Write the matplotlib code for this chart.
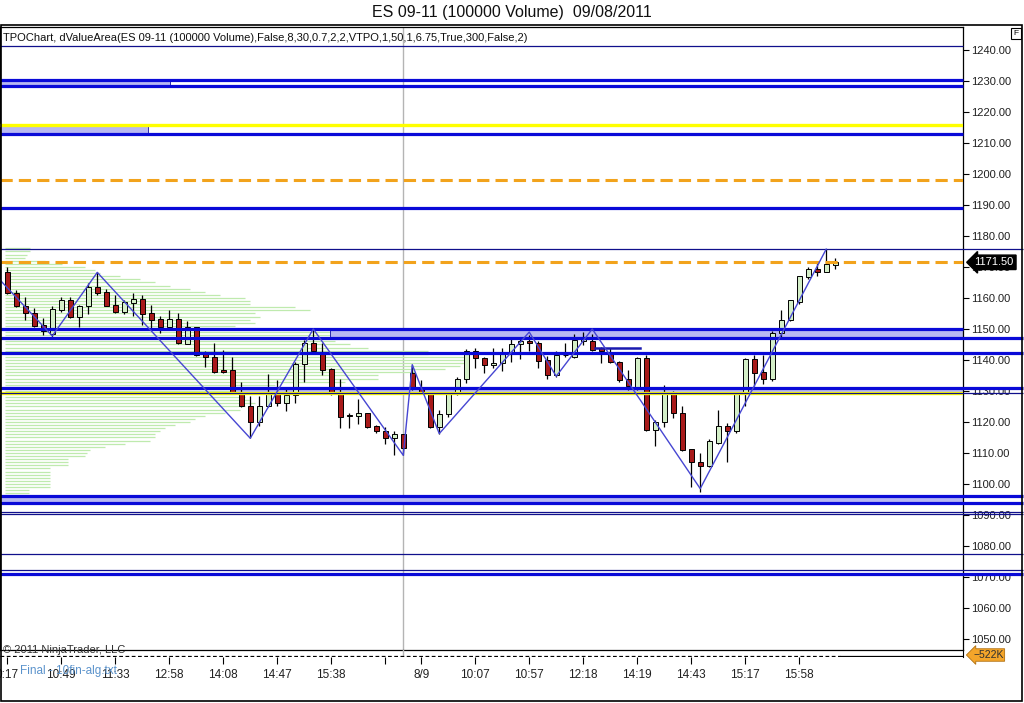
import matplotlib
matplotlib.use("Agg")
import matplotlib.pyplot as plt
from matplotlib.patches import Rectangle
import numpy as np

plt.rcParams['font.family'] = ['Liberation Sans', 'DejaVu Sans']

# --- data -------------------------------------------------------------
opens = [1168.25, 1161.75, 1157.5, 1155.0, 1151.25, 1148.25, 1156.0, 1159.5, 1154.0, 1157.25,
         1163.5, 1162.0, 1157.75, 1155.5, 1158.5, 1159.75, 1155.0, 1153.25, 1150.5, 1153.25,
         1145.25, 1150.5, 1142.0, 1141.0, 1136.75, 1136.75, 1129.75, 1125.25, 1120.0, 1125.0,
         1129.5, 1126.0, 1128.75, 1138.75, 1145.5, 1142.25, 1137.0, 1129.5, 1122.25, 1122.0,
         1123.0, 1118.75, 1117.0, 1114.75, 1116.25, 1135.75, 1131.0, 1129.75, 1118.25, 1122.5,
         1129.5, 1134.0, 1142.75, 1140.5, 1138.5, 1139.0, 1142.25, 1145.25, 1146.0, 1145.5,
         1140.0, 1135.25, 1141.5, 1141.0, 1146.25, 1146.25, 1143.75, 1142.0, 1139.5, 1133.75,
         1130.75, 1140.75, 1117.5, 1120.0, 1129.0, 1122.75, 1111.25, 1107.25, 1105.75, 1113.25,
         1118.75, 1117.25, 1129.5, 1140.25, 1136.0, 1134.0, 1148.75, 1153.0, 1158.75, 1166.75,
         1169.25, 1168.5, 1170.75]
highs = [1170.0, 1162.5, 1160.25, 1156.75, 1153.5, 1157.25, 1160.25, 1160.25, 1157.75, 1164.75,
         1168.25, 1163.0, 1161.0, 1159.5, 1161.75, 1161.0, 1157.75, 1154.25, 1156.0, 1155.25,
         1152.5, 1150.5, 1143.0, 1145.5, 1143.25, 1141.0, 1133.0, 1128.25, 1128.25, 1135.5,
         1133.5, 1130.5, 1139.5, 1146.5, 1150.0, 1145.5, 1137.25, 1133.75, 1122.75, 1127.5,
         1123.0, 1119.0, 1118.5, 1117.0, 1116.25, 1138.5, 1133.5, 1129.75, 1124.0, 1129.75,
         1134.5, 1143.5, 1143.75, 1141.0, 1143.75, 1144.0, 1146.75, 1147.25, 1148.0, 1146.25,
         1141.25, 1143.0, 1145.5, 1148.5, 1149.0, 1148.5, 1144.25, 1143.75, 1139.75, 1136.75,
         1141.0, 1141.5, 1120.5, 1132.0, 1130.0, 1125.25, 1111.25, 1110.0, 1114.5, 1124.0,
         1119.75, 1129.5, 1140.5, 1141.5, 1141.5, 1149.5, 1156.0, 1159.5, 1167.0, 1170.0,
         1172.0, 1175.75, 1173.0]
lows = [1161.25, 1157.0, 1153.0, 1150.75, 1148.0, 1147.5, 1155.5, 1153.5, 1150.75, 1154.75,
        1161.0, 1157.25, 1155.0, 1154.75, 1154.25, 1151.25, 1150.0, 1148.75, 1150.5, 1145.25,
        1145.25, 1141.25, 1137.75, 1135.75, 1135.75, 1129.5, 1124.75, 1114.75, 1118.75, 1124.75,
        1125.0, 1123.5, 1126.25, 1133.0, 1142.0, 1135.25, 1128.75, 1118.0, 1118.0, 1119.5,
        1118.0, 1116.5, 1113.0, 1109.5, 1109.25, 1130.25, 1129.5, 1118.0, 1116.25, 1121.75,
        1128.75, 1132.5, 1137.25, 1135.75, 1137.5, 1136.5, 1139.5, 1140.25, 1143.0, 1137.25,
        1134.0, 1134.5, 1141.0, 1140.75, 1144.75, 1142.75, 1139.0, 1139.0, 1132.75, 1130.25,
        1130.25, 1117.0, 1112.25, 1118.5, 1121.25, 1110.75, 1099.0, 1097.5, 1105.5, 1113.0,
        1107.25, 1116.5, 1125.0, 1131.5, 1132.25, 1133.25, 1147.5, 1152.5, 1158.0, 1166.25,
        1167.0, 1168.25, 1169.5]
closes = [1161.5, 1157.25, 1155.0, 1151.0, 1149.5, 1156.5, 1159.5, 1154.0, 1157.5, 1163.5,
          1161.5, 1157.5, 1155.5, 1158.75, 1159.75, 1154.75, 1153.0, 1150.5, 1153.25, 1145.5,
          1150.5, 1141.5, 1141.0, 1136.0, 1136.25, 1129.75, 1125.0, 1120.0, 1125.25, 1129.5,
          1126.0, 1128.75, 1138.75, 1145.5, 1142.75, 1136.75, 1129.5, 1121.5, 1122.0, 1122.75,
          1118.25, 1117.0, 1114.75, 1116.25, 1111.75, 1131.0, 1129.75, 1118.25, 1122.5, 1129.5,
          1134.0, 1143.0, 1140.5, 1138.5, 1139.0, 1142.0, 1145.25, 1146.0, 1145.5, 1139.75,
          1135.25, 1141.5, 1141.75, 1146.5, 1147.0, 1143.25, 1142.75, 1139.5, 1133.5, 1131.5,
          1140.75, 1117.5, 1120.0, 1129.0, 1122.75, 1111.0, 1107.0, 1105.75, 1113.75, 1118.75,
          1117.25, 1129.5, 1140.25, 1135.75, 1134.0, 1148.75, 1153.0, 1159.25, 1167.0, 1169.25,
          1168.5, 1171.0, 1171.5]

# zigzag swing points (bar index, price)
zz_bars = [-2, 5, 10, 27, 34, 44, 45, 48, 58, 61, 65, 77, 91]
zz_prices = [1169.5, 1147.75, 1168.25, 1114.75, 1150.0, 1109.25, 1138.5, 1116.25,
             1149.0, 1134.75, 1150.0, 1098.5, 1175.75]

# volume profile (price level, relative size)
prof_prices = list(range(1176, 1096, -1))
prof_size = [25, 25, 22, 20, 40, 57, 80, 90, 95, 115, 135, 150, 165, 185, 200, 215, 240, 245,
             245, 290, 305, 250, 255, 245, 250, 230, 290, 340, 335, 330, 330, 345, 363, 423,
             423, 463, 463, 463, 455, 440, 410, 373, 373, 340, 270, 245, 232, 230, 240, 245,
             250, 240, 235, 220, 200, 190, 185, 170, 160, 155, 150, 150, 145, 120, 100, 85,
             82, 80, 63, 63, 63, 45, 45, 45, 45, 45, 45, 45, 24, 24]

thick_levels = [1230.25, 1228.25, 1213.0, 1189.0, 1150.0, 1147.0, 1142.25, 1131.0,
                1096.0, 1094.0, 1071.0]
thick_extend = [False, False, False, False, False, True, True, True, True, True, True]
thin_levels = [1241.25, 1175.75, 1129.5, 1091.0, 1090.25, 1077.5, 1072.25]
thin_extend = [False, True, True, True, True, True, True]
yellow_levels = [1215.75, 1129.25]
orange_levels = [1198.0, 1171.5]
last_price = 1171.5

tick_bars = [0, 6, 12, 18, 24, 30, 36, 42, 46, 52, 58, 64, 70, 76, 82, 88]
tick_labels = ['0:17', '10:49', '11:33', '12:58', '14:08', '14:47', '15:38', '', '8/9',
               '10:07', '10:57', '12:18', '14:19', '14:43', '15:17', '15:58']
session_bar = 44

# --- figure -----------------------------------------------------------
W, H = 1024, 703
fig = plt.figure(figsize=(W / 100, H / 100), dpi=100)

def fx(px):
    return px / W

def fy(py):
    return 1 - py / H

ax = fig.add_axes([0, fy(650), fx(963), fy(27) - fy(650)])
vax = fig.add_axes([0, fy(657), fx(963), fy(650) - fy(657)], sharex=ax)

x = np.arange(len(opens))
o = np.array(opens); c = np.array(closes)
h = np.array(highs); l = np.array(lows)

# volume profile
for p, s in zip(prof_prices, prof_size):
    ax.plot([-0.25, -0.25 + s / 9.0], [p, p], color='#bfeaae', lw=0.9, zorder=1,
            solid_capstyle='butt')

# value-area boxes
box_col = '#b8b8f2'
boxes = [(-1, 18.1, 1228.25, 1230.25), (-1, 15.6, 1213.0, 1215.5),
         (35.9, 106.2, 1147.0, 1150.0), (25.0, 106.2, 1129.5, 1131.0),
         (-1, 106.2, 1094.0, 1096.0)]
for x0, x1, y0, y1 in boxes:
    ax.add_patch(Rectangle((x0, y0), x1 - x0, y1 - y0, facecolor=box_col,
                           edgecolor='#1010a0', lw=0.6, zorder=2))

# candles
up = c >= o
ax.vlines(x, l, h, color='black', lw=0.9, zorder=3)
body = np.where(np.abs(c - o) < 0.2, 0.2, c - o)
ax.bar(x[up], body[up], bottom=o[up], width=0.55, color='#d4efc8',
       edgecolor='black', lw=0.7, zorder=3.5)
ax.bar(x[~up], body[~up], bottom=o[~up], width=0.55, color='#a81a1a',
       edgecolor='black', lw=0.7, zorder=3.5)

# horizontal levels
ytr = ax.get_yaxis_transform()
for p, ext in zip(thick_levels, thick_extend):
    ax.plot([0, 1.062 if ext else 1.0], [p, p], transform=ytr, color='#0a0ad8',
            lw=2.3, zorder=4, clip_on=False, solid_capstyle='butt')
for p, ext in zip(thin_levels, thin_extend):
    ax.plot([0, 1.062 if ext else 1.0], [p, p], transform=ytr, color='#10108c',
            lw=0.9, zorder=4, clip_on=False, solid_capstyle='butt')
for p in yellow_levels:
    ax.axhline(p, color='#ffff00', lw=2.4, zorder=3.8)
for p in orange_levels:
    ax.axhline(p, color='#f2a31c', lw=2.2, ls=(0, (4, 2)), zorder=4)

# short pivot line
ax.plot([65.3, 70.3], [1144.0, 1144.0], color='#1a1ab0', lw=1.8, zorder=4)

# zigzag
ax.plot(zz_bars, zz_prices, color='#4646d2', lw=1.0, zorder=5)

# session break
ax.axvline(session_bar, color='#b4b4b4', lw=1.0, zorder=0.5)
vax.axvline(session_bar, color='#b4b4b4', lw=1.0)

ax.set_xlim(-0.81, 106.2)
ax.set_ylim(1046.45, 1247.4)
ax.yaxis.tick_right()
yt = np.arange(1050, 1241, 10)
ax.set_yticks(yt)
ax.set_yticklabels([f'{v:.2f}' for v in yt])
ax.tick_params(axis='y', direction='out', length=4, width=0.8, labelsize=8,
               pad=2, colors='black', labelcolor='#202020')
ax.tick_params(axis='x', bottom=False, labelbottom=False)
for s in ax.spines.values():
    s.set_color('black')
    s.set_linewidth(0.9)

# last price marker
ax.text(1.012, last_price, '1171.50', transform=ytr, color='white', fontsize=8,
        va='center', ha='left', zorder=10,
        bbox=dict(boxstyle='larrow,pad=0.2', fc='black', ec='black'))

# volume panel
vax.set_ylim(0, 1)
for s in ['top', 'left', 'right', 'bottom']:
    vax.spines[s].set_visible(False)
vax.spines['right'].set_visible(True)
vax.spines['right'].set_color('black')
vax.plot([-0.81, 92.5], [0.15, 0.15], color='black', lw=0.9, ls=(0, (3, 2)))
vax.plot([92.5, 106.2], [0.15, 0.15], color='black', lw=0.9)
vax.set_yticks([])
vax.set_xticks(tick_bars)
vax.set_xticklabels(tick_labels)
vax.tick_params(axis='x', direction='out', length=5, width=0.8, labelsize=8.5,
                pad=4, labelcolor='#202020')
vax.patch.set_alpha(0)

fig.text(fx(973), fy(655), '\u2212522K', fontsize=7.5, va='center', ha='left',
         color='#303030',
         bbox=dict(boxstyle='larrow,pad=0.12', fc='#f4a52a', ec='#b07010', lw=0.6))

# title and annotations
fig.text(0.5, fy(13), 'ES 09-11 (100000 Volume)  09/08/2011', ha='center', va='center',
         fontsize=11.5, color='#101010')
fig.text(fx(3), fy(38), 'TPOChart, dValueArea(ES 09-11 (100000 Volume),False,8,30,0.7,2,2,'
         'VTPO,1,50,1,6.75,True,300,False,2)', fontsize=8, va='center', color='#101010')
fig.text(fx(3), fy(650), '\u00a9 2011 NinjaTrader, LLC', fontsize=8, va='center',
         color='#303030')
fig.text(fx(20), fy(671), 'Final - 10fin-alg.txt', fontsize=8.5, va='center',
         color='#5b93cc')

# outer frame and F box
fig.add_artist(Rectangle((fx(1), fy(701)), fx(1021), fy(25) - fy(701),
                         transform=fig.transFigure, fill=False, ec='black', lw=1.2))
fig.add_artist(Rectangle((fx(1011), fy(39)), fx(10), fy(28) - fy(39),
                         transform=fig.transFigure, fill=False, ec='black', lw=0.8))
fig.text(fx(1016), fy(33.5), 'F', fontsize=6, ha='center', va='center')

fig.savefig('out.png', dpi=100, facecolor='white')
